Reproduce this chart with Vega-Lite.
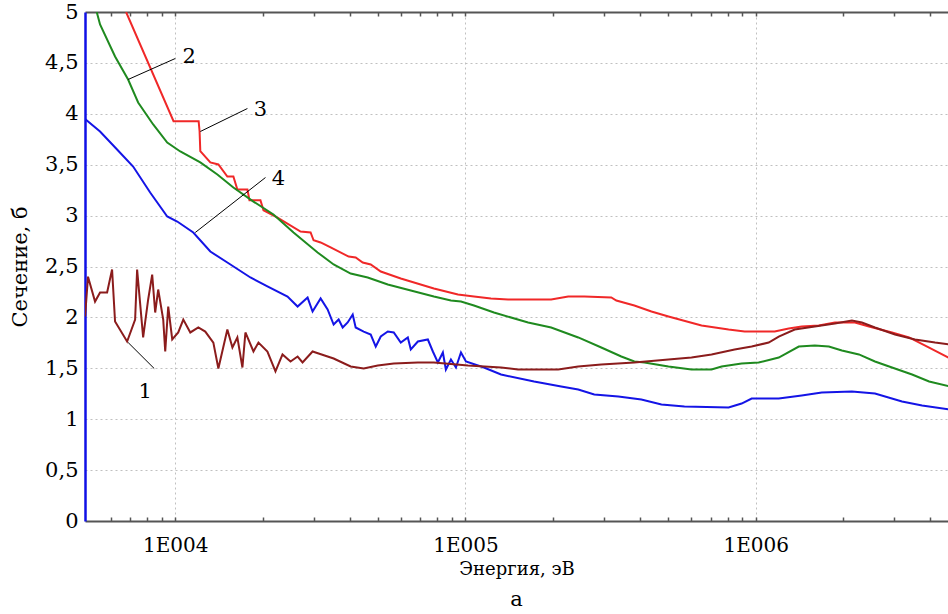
{
  "$schema": "https://vega.github.io/schema/vega-lite/v6.json",
  "width": 863,
  "height": 509,
  "autosize": {"type": "none"},
  "padding": {"left": 85, "top": 12, "right": 0, "bottom": 93},
  "background": "white",
  "config": {
    "view": {"stroke": null},
    "font": "DejaVu Serif",
    "text": {"font": "DejaVu Serif"},
    "axis": {"labelFont": "DejaVu Serif", "titleFont": "DejaVu Serif", "labelColor": "black", "titleColor": "black", "titleFontWeight": "normal"}
  },
  "title": {"text": "а", "orient": "bottom", "anchor": "middle", "fontSize": 21, "font": "DejaVu Serif", "fontWeight": "normal", "offset": 11, "color": "black"},
  "datasets": {
    "curves": [
      {"c": "3", "E": 6770, "s": 5.0},
      {"c": "3", "E": 9866, "s": 3.927},
      {"c": "3", "E": 12040, "s": 3.927},
      {"c": "3", "E": 12130, "s": 3.829},
      {"c": "3", "E": 12200, "s": 3.633},
      {"c": "3", "E": 13210, "s": 3.522},
      {"c": "3", "E": 14080, "s": 3.502},
      {"c": "3", "E": 15120, "s": 3.384},
      {"c": "3", "E": 15860, "s": 3.384},
      {"c": "3", "E": 16370, "s": 3.256},
      {"c": "3", "E": 17730, "s": 3.256},
      {"c": "3", "E": 18020, "s": 3.151},
      {"c": "3", "E": 19660, "s": 3.151},
      {"c": "3", "E": 20140, "s": 3.053},
      {"c": "3", "E": 22510, "s": 2.981},
      {"c": "3", "E": 27030, "s": 2.844},
      {"c": "3", "E": 29270, "s": 2.834},
      {"c": "3", "E": 29970, "s": 2.758},
      {"c": "3", "E": 31690, "s": 2.736},
      {"c": "3", "E": 34310, "s": 2.687},
      {"c": "3", "E": 39590, "s": 2.598},
      {"c": "3", "E": 41850, "s": 2.588},
      {"c": "3", "E": 44260, "s": 2.539},
      {"c": "3", "E": 47160, "s": 2.52},
      {"c": "3", "E": 51080, "s": 2.451},
      {"c": "3", "E": 59860, "s": 2.382},
      {"c": "3", "E": 77850, "s": 2.284},
      {"c": "3", "E": 94210, "s": 2.225},
      {"c": "3", "E": 107000, "s": 2.205},
      {"c": "3", "E": 122400, "s": 2.186},
      {"c": "3", "E": 140200, "s": 2.176},
      {"c": "3", "E": 197400, "s": 2.176},
      {"c": "3", "E": 226000, "s": 2.205},
      {"c": "3", "E": 256700, "s": 2.205},
      {"c": "3", "E": 318100, "s": 2.196},
      {"c": "3", "E": 331100, "s": 2.166},
      {"c": "3", "E": 381900, "s": 2.117},
      {"c": "3", "E": 437400, "s": 2.058},
      {"c": "3", "E": 500600, "s": 2.009},
      {"c": "3", "E": 650900, "s": 1.92},
      {"c": "3", "E": 806700, "s": 1.881},
      {"c": "3", "E": 916300, "s": 1.862},
      {"c": "3", "E": 1163000, "s": 1.862},
      {"c": "3", "E": 1300000, "s": 1.891},
      {"c": "3", "E": 1441000, "s": 1.911},
      {"c": "3", "E": 1651000, "s": 1.92},
      {"c": "3", "E": 1875000, "s": 1.95},
      {"c": "3", "E": 2198000, "s": 1.95},
      {"c": "3", "E": 2457000, "s": 1.911},
      {"c": "3", "E": 2950000, "s": 1.852},
      {"c": "3", "E": 3377000, "s": 1.803},
      {"c": "3", "E": 3960000, "s": 1.704},
      {"c": "3", "E": 4679000, "s": 1.596},

      {"c": "2", "E": 5364, "s": 5.0},
      {"c": "2", "E": 5507, "s": 4.877},
      {"c": "2", "E": 6203, "s": 4.563},
      {"c": "2", "E": 6880, "s": 4.337},
      {"c": "2", "E": 7450, "s": 4.111},
      {"c": "2", "E": 8395, "s": 3.895},
      {"c": "2", "E": 9384, "s": 3.718},
      {"c": "2", "E": 10410, "s": 3.63},
      {"c": "2", "E": 12200, "s": 3.522},
      {"c": "2", "E": 13970, "s": 3.404},
      {"c": "2", "E": 15860, "s": 3.276},
      {"c": "2", "E": 18600, "s": 3.138},
      {"c": "2", "E": 21800, "s": 3.011},
      {"c": "2", "E": 25560, "s": 2.834},
      {"c": "2", "E": 30940, "s": 2.638},
      {"c": "2", "E": 35140, "s": 2.52},
      {"c": "2", "E": 40220, "s": 2.431},
      {"c": "2", "E": 46050, "s": 2.392},
      {"c": "2", "E": 54000, "s": 2.323},
      {"c": "2", "E": 64820, "s": 2.264},
      {"c": "2", "E": 77850, "s": 2.205},
      {"c": "2", "E": 89110, "s": 2.166},
      {"c": "2", "E": 96500, "s": 2.156},
      {"c": "2", "E": 107000, "s": 2.117},
      {"c": "2", "E": 125400, "s": 2.048},
      {"c": "2", "E": 164400, "s": 1.95},
      {"c": "2", "E": 197400, "s": 1.901},
      {"c": "2", "E": 244700, "s": 1.803},
      {"c": "2", "E": 293800, "s": 1.704},
      {"c": "2", "E": 344400, "s": 1.616},
      {"c": "2", "E": 381900, "s": 1.567},
      {"c": "2", "E": 413700, "s": 1.557},
      {"c": "2", "E": 500600, "s": 1.518},
      {"c": "2", "E": 601000, "s": 1.488},
      {"c": "2", "E": 704700, "s": 1.488},
      {"c": "2", "E": 763200, "s": 1.518},
      {"c": "2", "E": 894500, "s": 1.547},
      {"c": "2", "E": 1024000, "s": 1.557},
      {"c": "2", "E": 1201000, "s": 1.606},
      {"c": "2", "E": 1408000, "s": 1.714},
      {"c": "2", "E": 1599000, "s": 1.724},
      {"c": "2", "E": 1787000, "s": 1.714},
      {"c": "2", "E": 1982000, "s": 1.675},
      {"c": "2", "E": 2269000, "s": 1.636},
      {"c": "2", "E": 2577000, "s": 1.567},
      {"c": "2", "E": 2950000, "s": 1.508},
      {"c": "2", "E": 3459000, "s": 1.439},
      {"c": "2", "E": 3960000, "s": 1.37},
      {"c": "2", "E": 4679000, "s": 1.321},

      {"c": "4", "E": 4890, "s": 3.95},
      {"c": "4", "E": 5507, "s": 3.826},
      {"c": "4", "E": 6303, "s": 3.649},
      {"c": "4", "E": 7160, "s": 3.482},
      {"c": "4", "E": 8196, "s": 3.227},
      {"c": "4", "E": 9384, "s": 2.991},
      {"c": "4", "E": 10160, "s": 2.942},
      {"c": "4", "E": 11540, "s": 2.834},
      {"c": "4", "E": 13210, "s": 2.647},
      {"c": "4", "E": 15120, "s": 2.539},
      {"c": "4", "E": 18160, "s": 2.392},
      {"c": "4", "E": 20780, "s": 2.304},
      {"c": "4", "E": 24370, "s": 2.205},
      {"c": "4", "E": 26400, "s": 2.107},
      {"c": "4", "E": 28580, "s": 2.195},
      {"c": "4", "E": 29730, "s": 2.058},
      {"c": "4", "E": 31690, "s": 2.186},
      {"c": "4", "E": 33500, "s": 2.078},
      {"c": "4", "E": 35140, "s": 1.93},
      {"c": "4", "E": 36560, "s": 1.979},
      {"c": "4", "E": 37750, "s": 1.901},
      {"c": "4", "E": 39280, "s": 1.95},
      {"c": "4", "E": 40880, "s": 2.028},
      {"c": "4", "E": 41850, "s": 1.901},
      {"c": "4", "E": 44610, "s": 1.861},
      {"c": "4", "E": 47160, "s": 1.832},
      {"c": "4", "E": 49080, "s": 1.714},
      {"c": "4", "E": 51080, "s": 1.812},
      {"c": "4", "E": 54000, "s": 1.861},
      {"c": "4", "E": 56620, "s": 1.852},
      {"c": "4", "E": 59860, "s": 1.753},
      {"c": "4", "E": 63300, "s": 1.803},
      {"c": "4", "E": 64820, "s": 1.685},
      {"c": "4", "E": 68550, "s": 1.763},
      {"c": "4", "E": 74210, "s": 1.783},
      {"c": "4", "E": 77220, "s": 1.665},
      {"c": "4", "E": 80350, "s": 1.557},
      {"c": "4", "E": 83600, "s": 1.655},
      {"c": "4", "E": 85610, "s": 1.488},
      {"c": "4", "E": 89110, "s": 1.586},
      {"c": "4", "E": 92730, "s": 1.508},
      {"c": "4", "E": 96500, "s": 1.655},
      {"c": "4", "E": 100400, "s": 1.567},
      {"c": "4", "E": 115800, "s": 1.508},
      {"c": "4", "E": 132600, "s": 1.439},
      {"c": "4", "E": 172400, "s": 1.37},
      {"c": "4", "E": 213700, "s": 1.321},
      {"c": "4", "E": 244700, "s": 1.292},
      {"c": "4", "E": 277900, "s": 1.243},
      {"c": "4", "E": 336400, "s": 1.223},
      {"c": "4", "E": 403800, "s": 1.194},
      {"c": "4", "E": 473500, "s": 1.144},
      {"c": "4", "E": 568300, "s": 1.125},
      {"c": "4", "E": 806700, "s": 1.115},
      {"c": "4", "E": 894500, "s": 1.154},
      {"c": "4", "E": 968700, "s": 1.203},
      {"c": "4", "E": 1201000, "s": 1.203},
      {"c": "4", "E": 1441000, "s": 1.233},
      {"c": "4", "E": 1690000, "s": 1.262},
      {"c": "4", "E": 2146000, "s": 1.272},
      {"c": "4", "E": 2577000, "s": 1.252},
      {"c": "4", "E": 3194000, "s": 1.174},
      {"c": "4", "E": 3745000, "s": 1.135},
      {"c": "4", "E": 4679000, "s": 1.095},

      {"c": "1", "E": 4890, "s": 2.009},
      {"c": "1", "E": 5005, "s": 2.4},
      {"c": "1", "E": 5293, "s": 2.156},
      {"c": "1", "E": 5507, "s": 2.245},
      {"c": "1", "E": 5824, "s": 2.245},
      {"c": "1", "E": 6058, "s": 2.47},
      {"c": "1", "E": 6203, "s": 1.96},
      {"c": "1", "E": 6826, "s": 1.763},
      {"c": "1", "E": 7274, "s": 1.979},
      {"c": "1", "E": 7390, "s": 2.47},
      {"c": "1", "E": 7752, "s": 1.803},
      {"c": "1", "E": 8067, "s": 2.176},
      {"c": "1", "E": 8328, "s": 2.421},
      {"c": "1", "E": 8529, "s": 2.048},
      {"c": "1", "E": 8735, "s": 2.274},
      {"c": "1", "E": 9090, "s": 1.979},
      {"c": "1", "E": 9236, "s": 1.665},
      {"c": "1", "E": 9459, "s": 2.107},
      {"c": "1", "E": 9764, "s": 1.783},
      {"c": "1", "E": 10240, "s": 1.852},
      {"c": "1", "E": 10660, "s": 1.979},
      {"c": "1", "E": 11270, "s": 1.852},
      {"c": "1", "E": 12010, "s": 1.901},
      {"c": "1", "E": 12690, "s": 1.861},
      {"c": "1", "E": 13530, "s": 1.753},
      {"c": "1", "E": 14080, "s": 1.498},
      {"c": "1", "E": 15120, "s": 1.881},
      {"c": "1", "E": 15740, "s": 1.704},
      {"c": "1", "E": 16370, "s": 1.803},
      {"c": "1", "E": 17040, "s": 1.508},
      {"c": "1", "E": 17450, "s": 1.852},
      {"c": "1", "E": 18600, "s": 1.665},
      {"c": "1", "E": 19350, "s": 1.753},
      {"c": "1", "E": 20780, "s": 1.665},
      {"c": "1", "E": 22150, "s": 1.469},
      {"c": "1", "E": 23420, "s": 1.636},
      {"c": "1", "E": 24960, "s": 1.567},
      {"c": "1", "E": 26400, "s": 1.616},
      {"c": "1", "E": 27460, "s": 1.557},
      {"c": "1", "E": 29730, "s": 1.665},
      {"c": "1", "E": 31190, "s": 1.645},
      {"c": "1", "E": 35140, "s": 1.596},
      {"c": "1", "E": 40220, "s": 1.518},
      {"c": "1", "E": 44610, "s": 1.498},
      {"c": "1", "E": 49870, "s": 1.528},
      {"c": "1", "E": 56620, "s": 1.547},
      {"c": "1", "E": 68550, "s": 1.557},
      {"c": "1", "E": 77850, "s": 1.557},
      {"c": "1", "E": 102000, "s": 1.528},
      {"c": "1", "E": 132600, "s": 1.508},
      {"c": "1", "E": 151800, "s": 1.488},
      {"c": "1", "E": 208700, "s": 1.488},
      {"c": "1", "E": 244700, "s": 1.518},
      {"c": "1", "E": 293800, "s": 1.537},
      {"c": "1", "E": 381900, "s": 1.557},
      {"c": "1", "E": 500600, "s": 1.586},
      {"c": "1", "E": 601000, "s": 1.606},
      {"c": "1", "E": 704700, "s": 1.636},
      {"c": "1", "E": 846300, "s": 1.685},
      {"c": "1", "E": 968700, "s": 1.714},
      {"c": "1", "E": 1109000, "s": 1.753},
      {"c": "1", "E": 1201000, "s": 1.812},
      {"c": "1", "E": 1363000, "s": 1.881},
      {"c": "1", "E": 1599000, "s": 1.911},
      {"c": "1", "E": 1875000, "s": 1.94},
      {"c": "1", "E": 2146000, "s": 1.97},
      {"c": "1", "E": 2323000, "s": 1.95},
      {"c": "1", "E": 2577000, "s": 1.901},
      {"c": "1", "E": 3021000, "s": 1.832},
      {"c": "1", "E": 3541000, "s": 1.783},
      {"c": "1", "E": 4152000, "s": 1.753},
      {"c": "1", "E": 4679000, "s": 1.734}
    ],
    "leaders": [
      {"x": 6880, "y": 4.337, "x2": 10000, "y2": 4.543},
      {"x": 12202, "y": 3.826, "x2": 17730, "y2": 4.052},
      {"x": 11722, "y": 2.834, "x2": 20462, "y2": 3.374},
      {"x": 6882, "y": 1.753, "x2": 8462, "y2": 1.498}
    ],
    "labels": [
      {"t": "2", "x": 11178, "y": 4.56},
      {"t": "3", "x": 19664, "y": 4.04},
      {"t": "4", "x": 22692, "y": 3.355},
      {"t": "1", "x": 7879, "y": 1.272}
    ]
  },
  "layer": [
    {
      "data": {"name": "curves"},
      "mark": {"type": "line", "strokeWidth": 2, "clip": true},
      "encoding": {
        "x": {
          "field": "E", "type": "quantitative",
          "scale": {"type": "log", "domain": [4887, 4600000], "nice": false},
          "axis": {
            "orient": "bottom",
            "title": "Энергия, эВ", "titleFontSize": 18, "titlePadding": 5,
            "values": [6000, 7000, 8000, 9000, 10000, 20000, 30000, 40000, 50000, 60000, 70000, 80000, 90000, 100000, 200000, 300000, 400000, 500000, 600000, 700000, 800000, 900000, 1000000, 2000000, 3000000, 4000000],
            "labelExpr": "datum.value == 10000 ? '1E004' : datum.value == 100000 ? '1E005' : datum.value == 1000000 ? '1E006' : ''",
            "labelFontSize": 20, "labelPadding": 18, "labelFlush": false, "labelOverlap": false,
            "tickSize": -4, "tickColor": "#555555", "tickWidth": 1.5,
            "domainColor": "#555555", "domainWidth": 2,
            "grid": true, "gridColor": "#c0c0c0", "gridDash": [2, 3], "gridWidth": 1,
            "gridOpacity": {"condition": {"test": "datum.value == 10000 || datum.value == 100000 || datum.value == 1000000", "value": 1}, "value": 0}
          }
        },
        "y": {
          "field": "s", "type": "quantitative",
          "scale": {"domain": [0, 5], "nice": false},
          "axis": {
            "title": "Сечение, б", "titleFontSize": 21, "titlePadding": 14,
            "values": [0, 0.5, 1, 1.5, 2, 2.5, 3, 3.5, 4, 4.5, 5],
            "labelExpr": "replace(format(datum.value, '~g'), '.', ',')",
            "labelFontSize": 21, "labelPadding": 7, "labelFlush": false,
            "ticks": false,
            "domainColor": "#1010e6", "domainWidth": 2.5,
            "grid": true, "gridColor": "#c0c0c0", "gridDash": [2, 3], "gridWidth": 1,
            "gridOpacity": {"condition": {"test": "datum.value == 0 || datum.value == 5", "value": 0}, "value": 1}
          }
        },
        "color": {
          "field": "c", "type": "nominal",
          "scale": {"domain": ["1", "2", "3", "4"], "range": ["#8b1c1c", "#1f8a1f", "#f02828", "#1414e6"]},
          "legend": null
        }
      }
    },
    {
      "data": {"name": "leaders"},
      "mark": {"type": "rule", "color": "black", "strokeWidth": 1},
      "encoding": {
        "x": {
          "field": "x", "type": "quantitative",
          "scale": {"type": "log", "domain": [4887, 4600000], "nice": false},
          "axis": {
            "orient": "top", "title": null, "labels": false, "grid": false,
            "values": [6000, 7000, 8000, 9000, 10000, 20000, 30000, 40000, 50000, 60000, 70000, 80000, 90000, 100000, 200000, 300000, 400000, 500000, 600000, 700000, 800000, 900000, 1000000, 2000000, 3000000, 4000000],
            "tickSize": -4, "tickColor": "#555555", "tickWidth": 1.5,
            "domainColor": "#555555", "domainWidth": 2
          }
        },
        "x2": {"field": "x2"},
        "y": {"field": "y", "type": "quantitative", "scale": {"domain": [0, 5], "nice": false}, "axis": null},
        "y2": {"field": "y2"}
      }
    },
    {
      "data": {"name": "labels"},
      "mark": {"type": "text", "fontSize": 21, "font": "DejaVu Serif", "color": "black", "align": "center", "baseline": "middle"},
      "encoding": {
        "x": {"field": "x", "type": "quantitative", "scale": {"type": "log", "domain": [4887, 4600000], "nice": false}, "axis": null},
        "y": {"field": "y", "type": "quantitative", "scale": {"domain": [0, 5], "nice": false}, "axis": null},
        "text": {"field": "t"}
      }
    }
  ],
  "resolve": {"axis": {"x": "independent", "y": "independent"}}
}
